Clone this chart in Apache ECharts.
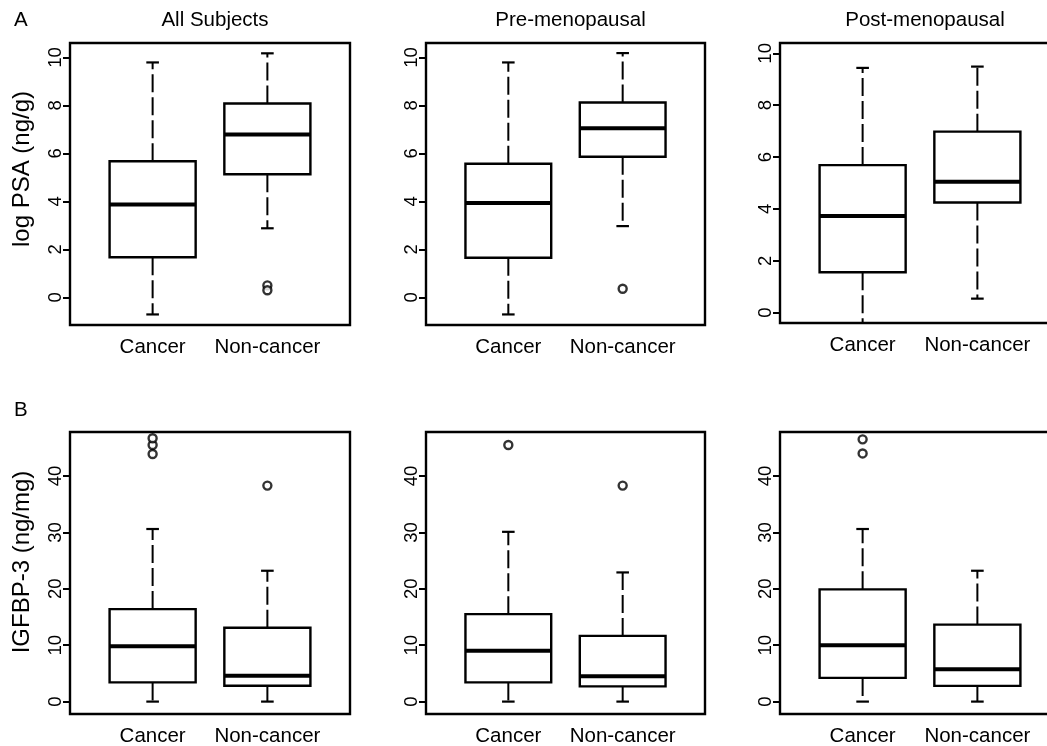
<!DOCTYPE html>
<html>
<head>
<meta charset="utf-8">
<script src="https://cdn.jsdelivr.net/npm/echarts@6/dist/echarts.min.js"></script>
<style>
  html, body { margin: 0; padding: 0; background: #fff; }
  #chart { width: 1047px; height: 746px; }
</style>
</head>
<body>
<div id="chart"></div>
<script>
// ---------------- DATA ----------------
const groups = ['Cancer', 'Non-cancer'];
const panelTitles = ['All Subjects', 'Pre-menopausal', 'Post-menopausal'];
const rowLetters = ['A', 'B'];
const rowAxisNames = ['log PSA (ng/g)', 'IGFBP-3 (ng/mg)'];
const psaTicks = [0, 2, 4, 6, 8, 10];
const igfTicks = [0, 10, 20, 30, 40];

// five-number summaries: [lower whisker, Q1, median, Q3, upper whisker]
const psaAllCancer = [-0.71, 1.67, 3.87, 5.67, 9.79];
const psaAllNon = [2.88, 5.13, 6.79, 8.08, 10.17];
const psaAllCancerOut = [];
const psaAllNonOut = [0.5, 0.3];

const psaPreCancer = [-0.71, 1.65, 3.93, 5.57, 9.79];
const psaPreNon = [2.97, 5.86, 7.05, 8.12, 10.18];
const psaPreCancerOut = [];
const psaPreNonOut = [0.36];

const psaPostCancer = [-0.7, 1.56, 3.73, 5.69, 9.44];
const psaPostNon = [0.54, 4.25, 5.05, 6.98, 9.49];
const psaPostCancerOut = [];
const psaPostNonOut = [];

const igfAllCancer = [0, 3.4, 9.8, 16.4, 30.6];
const igfAllNon = [0, 2.8, 4.6, 13.1, 23.2];
const igfAllCancerOut = [43.9, 45.5, 46.7];
const igfAllNonOut = [38.3];

const igfPreCancer = [0, 3.4, 9.0, 15.5, 30.1];
const igfPreNon = [0, 2.7, 4.5, 11.65, 22.9];
const igfPreCancerOut = [45.5];
const igfPreNonOut = [38.3];

const igfPostCancer = [0, 4.2, 10.0, 19.9, 30.6];
const igfPostNon = [0, 2.78, 5.74, 13.65, 23.2];
const igfPostCancerOut = [44.0, 46.5];
const igfPostNonOut = [];

// ---------------- LAYOUT ----------------
const FONT = 'Liberation Sans, Arial, Helvetica, sans-serif';
const panels = [
  { row: 0, col: 0, left: 70,  top: 43,  width: 280, height: 282, ymin: -1.15, ymax: 10.6, ticks: psaTicks,
    boxes: [psaAllCancer, psaAllNon], outs: [psaAllCancerOut, psaAllNonOut] },
  { row: 0, col: 1, left: 426, top: 43,  width: 279, height: 282, ymin: -1.15, ymax: 10.6, ticks: psaTicks,
    boxes: [psaPreCancer, psaPreNon], outs: [psaPreCancerOut, psaPreNonOut] },
  { row: 0, col: 2, left: 780, top: 43,  width: 280, height: 280, ymin: -0.4, ymax: 10.4, ticks: psaTicks,
    boxes: [psaPostCancer, psaPostNon], outs: [psaPostCancerOut, psaPostNonOut] },
  { row: 1, col: 0, left: 70,  top: 432, width: 280, height: 282, ymin: -2.2, ymax: 47.8, ticks: igfTicks,
    boxes: [igfAllCancer, igfAllNon], outs: [igfAllCancerOut, igfAllNonOut] },
  { row: 1, col: 1, left: 426, top: 432, width: 279, height: 282, ymin: -2.2, ymax: 47.8, ticks: igfTicks,
    boxes: [igfPreCancer, igfPreNon], outs: [igfPreCancerOut, igfPreNonOut] },
  { row: 1, col: 2, left: 780, top: 432, width: 280, height: 282, ymin: -2.2, ymax: 47.8, ticks: igfTicks,
    boxes: [igfPostCancer, igfPostNon], outs: [igfPostCancerOut, igfPostNonOut] }
];
const axisNamePos = [[22, 169], [22, 562]];

const BOX_HALF = 0.375;
const CAP_HALF = 0.055;

function renderBox(params, api) {
  const x = api.value(0);
  const lo = api.value(1), q1 = api.value(2), med = api.value(3), q3 = api.value(4), hi = api.value(5);
  const pLo = api.coord([x, lo]);
  const pQ1 = api.coord([x, q1]);
  const pMed = api.coord([x, med]);
  const pQ3 = api.coord([x, q3]);
  const pHi = api.coord([x, hi]);
  const halfW = api.size([BOX_HALF, 0])[0];
  const capW = api.size([CAP_HALF, 0])[0];
  const cx = pMed[0];
  const black = '#000';
  return {
    type: 'group',
    children: [
      { type: 'line', shape: { x1: cx, y1: pQ3[1], x2: cx, y2: pHi[1] },
        style: { stroke: black, lineWidth: 2, lineDash: [18, 5] } },
      { type: 'line', shape: { x1: cx, y1: pQ1[1], x2: cx, y2: pLo[1] },
        style: { stroke: black, lineWidth: 2, lineDash: [18, 5] } },
      { type: 'line', shape: { x1: cx - capW, y1: pHi[1], x2: cx + capW, y2: pHi[1] },
        style: { stroke: black, lineWidth: 2.2 } },
      { type: 'line', shape: { x1: cx - capW, y1: pLo[1], x2: cx + capW, y2: pLo[1] },
        style: { stroke: black, lineWidth: 2.2 } },
      { type: 'rect', shape: { x: cx - halfW, y: pQ3[1], width: 2 * halfW, height: pQ1[1] - pQ3[1] },
        style: { fill: '#fff', stroke: black, lineWidth: 2.4 } },
      { type: 'line', shape: { x1: cx - halfW, y1: pMed[1], x2: cx + halfW, y2: pMed[1] },
        style: { stroke: black, lineWidth: 4 } }
    ]
  };
}

const option = {
  backgroundColor: '#fff',
  animation: false,
  textStyle: { fontFamily: FONT },
  title: [],
  grid: [],
  xAxis: [],
  yAxis: [],
  series: [],
  graphic: []
};

panelTitles.forEach((t, i) => {
  option.title.push({
    text: t,
    left: panels[i].left + panels[i].width / 2,
    top: 5,
    textAlign: 'center',
    textStyle: { fontFamily: FONT, fontSize: 20.5, fontWeight: 'normal', color: '#000' }
  });
});
rowLetters.forEach((t, r) => {
  option.title.push({
    text: t,
    left: 9,
    top: r === 0 ? 5 : 395,
    textStyle: { fontFamily: FONT, fontSize: 20.5, fontWeight: 'normal', color: '#000' }
  });
});
rowAxisNames.forEach((t, r) => {
  option.graphic.push({
    type: 'text',
    x: axisNamePos[r][0], y: axisNamePos[r][1],
    rotation: Math.PI / 2,
    style: {
      text: t, fontFamily: FONT, fontSize: 24, fill: '#000',
      align: 'center', verticalAlign: 'middle'
    }
  });
});

panels.forEach((p, i) => {
  option.grid.push({
    left: p.left, top: p.top, width: p.width, height: p.height,
    show: true, borderColor: '#000', borderWidth: 2.4, backgroundColor: 'transparent',
    outerBoundsMode: 'none', containLabel: false
  });
  option.xAxis.push({
    type: 'value', gridIndex: i, min: 0.28, max: 2.72,
    axisLine: { show: false }, axisTick: { show: false }, splitLine: { show: false },
    axisLabel: {
      customValues: [1, 2],
      formatter: v => groups[Math.round(v) - 1] || '',
      fontFamily: FONT, fontSize: 20.5, color: '#000', margin: 12
    }
  });
  option.yAxis.push({
    type: 'value', gridIndex: i, min: p.ymin, max: p.ymax,
    axisLine: { show: false },
    splitLine: { show: false },
    axisTick: { show: true, customValues: p.ticks, length: 7, lineStyle: { color: '#000', width: 2 } },
    axisLabel: {
      customValues: p.ticks, rotate: 90, margin: 5,
      fontFamily: FONT, fontSize: 18.5, color: '#000'
    }
  });
  option.series.push({
    type: 'custom', xAxisIndex: i, yAxisIndex: i, clip: true,
    renderItem: renderBox,
    encode: { x: 0, y: [1, 2, 3, 4, 5] },
    data: p.boxes.map((b, k) => [k + 1].concat(b)),
    z: 2
  });
  const outData = [];
  p.outs.forEach((arr, k) => arr.forEach(v => outData.push([k + 1, v])));
  option.series.push({
    type: 'scatter', xAxisIndex: i, yAxisIndex: i,
    symbol: 'circle', symbolSize: 8,
    itemStyle: { color: '#fff', borderColor: '#000', borderWidth: 2.4 },
    data: outData, z: 3
  });
});

const chart = echarts.init(document.getElementById('chart'), null, { renderer: 'canvas' });
chart.setOption(option);
</script>
</body>
</html>
